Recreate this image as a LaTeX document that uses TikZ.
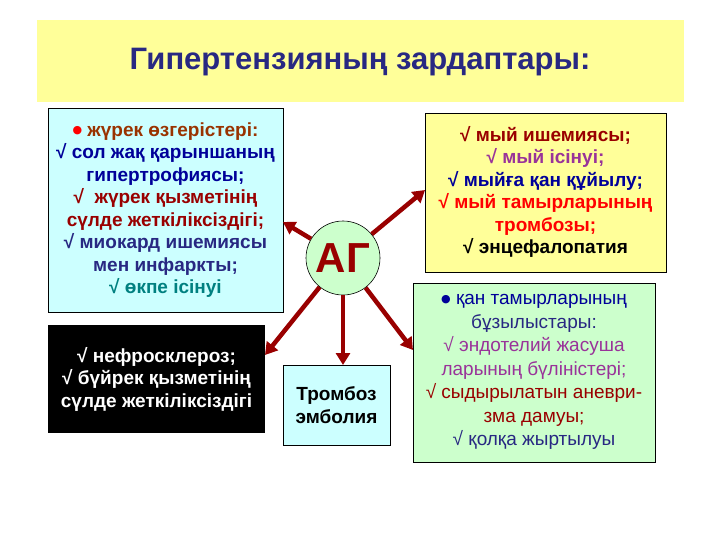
\documentclass[tikz,border=0pt]{standalone}
\usepackage{fontspec}
\setmainfont{Liberation Sans}
\newfontfamily\dv{DejaVu Sans}
\usetikzlibrary{arrows.meta}
\definecolor{ttl}{RGB}{40,40,130}
\definecolor{ylw}{RGB}{255,255,153}
\definecolor{cyn}{RGB}{204,255,255}
\definecolor{grn}{RGB}{204,255,204}
\definecolor{drd}{RGB}{153,0,0}
\definecolor{brn}{RGB}{153,51,0}
\definecolor{dbl}{RGB}{0,0,153}
\definecolor{pur}{RGB}{153,51,153}
\definecolor{tea}{RGB}{0,128,128}
\newcommand\bul{\raisebox{2.5pt}{\dv\fontsize{11}{11}\selectfont●}}
\tikzset{box/.style={draw=black,line width=0.8pt,inner sep=0pt},
 arr/.style={draw=drd,line width=4.5pt,-{Triangle[length=12pt,width=14pt]}},
 txt/.style={align=center,font=\bfseries\fontsize{19}{22.5}\selectfont}}
\begin{document}
\begin{tikzpicture}[x=1pt,y=1pt]
\useasboundingbox (0,0) rectangle (720,-540);
\fill[white] (0,0) rectangle (720,-540);
\fill[ylw] (37,-20) rectangle (684,-102);
\node (title) at (360,-62) {\fontsize{31}{33}\selectfont\bfseries\color{ttl}Гипертензияның зардаптары:};
\draw[box,fill=cyn] (48,-108) rectangle (283,-312);
\node[txt] (left) at (165.5,-210) {{\color{red}\bul} \color{brn}жүрек өзгерістері:\\
\color{dbl}√ сол жақ қарыншаның\\\color{dbl}гипертрофиясы;\\
\color{drd}√ \ жүрек қызметінің\\\color{drd}сүлде жеткіліксіздігі;\\
\color{ttl}√ миокард ишемиясы\\\color{ttl}мен инфаркты;\\\color{tea}√ өкпе ісінуі};
\fill[black] (48,-325) rectangle (265,-433);
\node[txt,text=white] (kid) at (156.5,-379) {√ нефросклероз;\\√ бүйрек қызметінің\\сүлде жеткіліксіздігі};
\draw[box,fill=cyn] (283,-365) rectangle (390,-445);
\node[txt] (tromb) at (336.5,-405) {Тромбоз\\эмболия};
\draw[box,fill=ylw] (425,-113) rectangle (666,-272);
\node[txt] (brain) at (545.5,-192) {\color{drd}√ мый ишемиясы;\\\color{pur}√ мый ісінуі;\\
\color{dbl}√ мыйға қан құйылу;\\\color{red}√ мый тамырларының\\\color{red}тромбозы;\\\color{black}√ энцефалопатия};
\draw[box,fill=grn] (413,-283) rectangle (655,-462);
\node[align=center,font=\fontsize{19}{23.5}\selectfont] (vess) at (534,-372) {{\color{dbl}\bul} \color{dbl}қан тамырларының\\\color{ttl}бұзылыстары:\\
\color{pur}√ эндотелий жасуша\\\color{pur}ларының бүліністері;\\\color{drd}√ сыдырылатын аневри-\\\color{drd}зма дамуы;\\\color{ttl}√ қолқа жыртылуы};
\node[circle,draw=black,line width=0.6pt,fill=grn,minimum size=74pt,inner sep=0pt,font=\bfseries\fontsize{42}{44}\selectfont,text=drd] (ag) at (343,-258) {АГ};
\coordinate (pL) at (283,-222);
\coordinate (pB) at (265,-355);
\coordinate (pT) at (343,-365);
\coordinate (pY) at (425,-190);
\coordinate (pG) at (413,-350);
\foreach \p in {pL,pB,pT,pY,pG} \draw[arr] (ag) -- (\p);
\end{tikzpicture}
\end{document}
